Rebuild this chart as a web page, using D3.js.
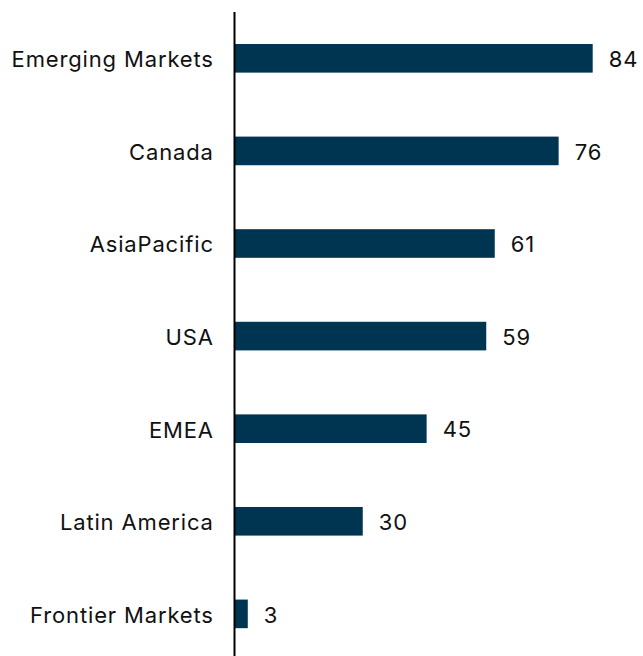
<!DOCTYPE html>
<html><head><meta charset="utf-8">
<script src="https://cdn.jsdelivr.net/npm/d3@7"></script>
<style>html,body{margin:0;padding:0;background:#fff;}</style>
</head><body>
<svg id="chart" width="643" height="656"></svg>
<script>
const categories = ["Emerging Markets","Canada","AsiaPacific","USA","EMEA","Latin America","Frontier Markets"];
const values = [84,76,61,59,45,30,3];

const svg = d3.select("#chart");
const axisX = 235;
const x = d3.scaleLinear().domain([0,84]).range([axisX, 592.7]);
const y = d3.scaleBand().domain(categories).range([12,656]).paddingInner(0.691).paddingOuter(0.323).align(0.535);
const font = "Inter, 'Liberation Sans', Arial, sans-serif";

svg.selectAll("rect.bar").data(values).join("rect")
  .attr("class","bar")
  .attr("x", x(0))
  .attr("y", (d,i)=>y(categories[i]))
  .attr("width", d=>x(d)-x(0))
  .attr("height", y.bandwidth())
  .attr("fill", "#003552");

svg.selectAll("text.val").data(values).join("text")
  .attr("class","val")
  .attr("x", d=>x(d)+16)
  .attr("y", (d,i)=>y(categories[i])+y.bandwidth()/2)
  .attr("dy","0.4em")
  .attr("font-family", font).attr("font-size", 22).attr("letter-spacing","0.9px").attr("fill","#111")
  .text(d=>d);

const yAxis = d3.axisLeft(y).tickSize(0).tickPadding(21.2);
const g = svg.append("g").attr("transform",`translate(${axisX},0)`).call(yAxis);
g.select(".domain").remove();
g.selectAll("text").attr("font-family", font).attr("font-size", 22).attr("letter-spacing","0.85px").attr("fill","#111").attr("dy","0.4em");
svg.append("line").attr("x1",axisX-0.5).attr("x2",axisX-0.5).attr("y1",12).attr("y2",656)
  .attr("stroke","#000").attr("stroke-width",2);
</script>
</body></html>
